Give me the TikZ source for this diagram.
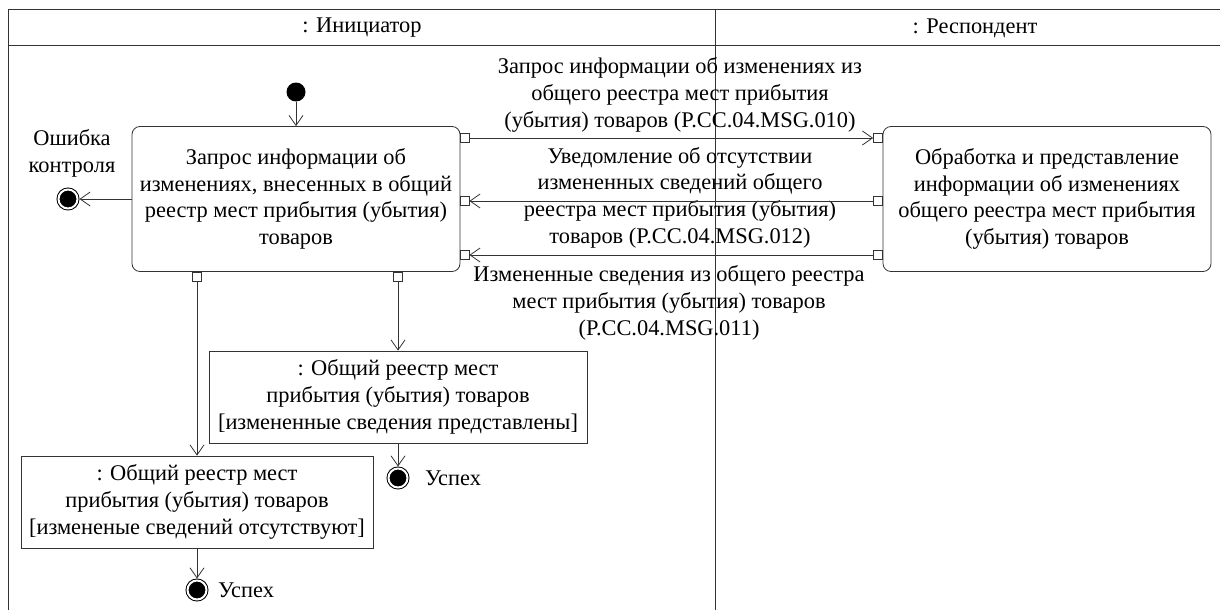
\documentclass[tikz,border=0pt]{standalone}
\usepackage{fontspec}
\setmainfont{Liberation Serif}
\usetikzlibrary{arrows.meta}
\tikzset{
	frame/.style={draw=black!80, line width=1pt},
	action/.style={draw=black!80, line width=0.8pt, rounded corners=8pt, minimum width=328pt, minimum height=145pt, align=center},
	objbox/.style={draw=black!80, line width=0.8pt, minimum height=92pt, align=center},
	pinbox/.style={draw=black!80, line width=0.8pt, fill=white, minimum size=9pt, inner sep=0pt},
	initnode/.style={circle, fill=black, minimum size=19pt, inner sep=0pt},
	endnode/.style={circle, fill=black, draw=black, double=white, double distance=2pt, line width=1pt, minimum size=19pt, inner sep=0pt, outer sep=2pt},
	msg/.style={draw=black!80, line width=0.8pt, -{Straight Barb[length=10pt,width=14pt]}},
}
\begin{document}
\begin{tikzpicture}[x=1pt, y=-1pt, font=\fontsize{22.4}{26.7}\selectfont]
		\useasboundingbox (0,0) rectangle (1220,610);
		%% Lanes
		\draw[frame] (8,610) -- (8,10) -- (1220,10);
		\draw[frame] (8,46) -- (1220,46);
		\draw[frame] (715,10) -- (715,610);
		\node (lane1) at (362,28) {: Инициатор};
		\node (lane2) at (975,28) {: Респондент};
		%% Actions
		\node[initnode] (init) at (296,92) {};
		\node[action] (req) at (296,199) {Запрос информации об\\изменениях, внесенных в общий\\реестр мест прибытия (убытия)\\товаров};
		\node[action] (proc) at (1047,199) {Обработка и представление\\информации об изменениях\\общего реестра мест прибытия\\(убытия) товаров};
		\node[pinbox] (p1) at (464.5,138) {};
		\node[pinbox] (p2) at (464.5,201) {};
		\node[pinbox] (p3) at (464.5,255) {};
		\node[pinbox] (q1) at (878,138) {};
		\node[pinbox] (q2) at (878,201) {};
		\node[pinbox] (q3) at (878,255) {};
		\node[pinbox] (p4) at (197,277) {};
		\node[pinbox] (p5) at (398,277) {};
		%% Objects
		\node[objbox, minimum width=378pt] (objA) at (398,397) {: Общий реестр мест\\прибытия (убытия) товаров\\{[}измененные сведения представлены{]}};
		\node[objbox, minimum width=352pt] (objB) at (197,502) {: Общий реестр мест\\прибытия (убытия) товаров\\{[}измененые сведений отсутствуют{]}};
		%% Finals
		\node[endnode] (err) at (68,199) {};
		\node[endnode] (ok1) at (398,478) {};
		\node[endnode] (ok2) at (197,590) {};
		\node[align=center] (errlbl) at (72,153.5) {Ошибка\\контроля};
		\node (ok1lbl) at (453,478) {Успех};
		\node (ok2lbl) at (246,590) {Успех};
		%% Messages
		\node[align=center] (m1) at (680,95) {Запрос информации об изменениях из\\общего реестра мест прибытия\\(убытия) товаров (P.CC.04.MSG.010)};
		\node[align=center] (m2) at (680,197.5) {Уведомление об отсутствии\\измененных сведений общего\\реестра мест прибытия (убытия)\\товаров (P.CC.04.MSG.012)};
		\node[align=center] (m3) at (669,303) {Измененные сведения из общего реестра\\мест прибытия (убытия) товаров\\(P.CC.04.MSG.011)};
		%% Flows
		\draw[msg] (init) -- (req);
		\draw[msg] (req) -- (err);
		\draw[msg] (p1) -- (q1);
		\draw[msg] (q2) -- (p2);
		\draw[msg] (q3) -- (p3);
		\draw[msg] (p4) -- (objB);
		\draw[msg] (p5) -- (objA);
		\draw[msg] (objA) -- (ok1);
		\draw[msg] (objB) -- (ok2);
	\end{tikzpicture}
\end{document}
